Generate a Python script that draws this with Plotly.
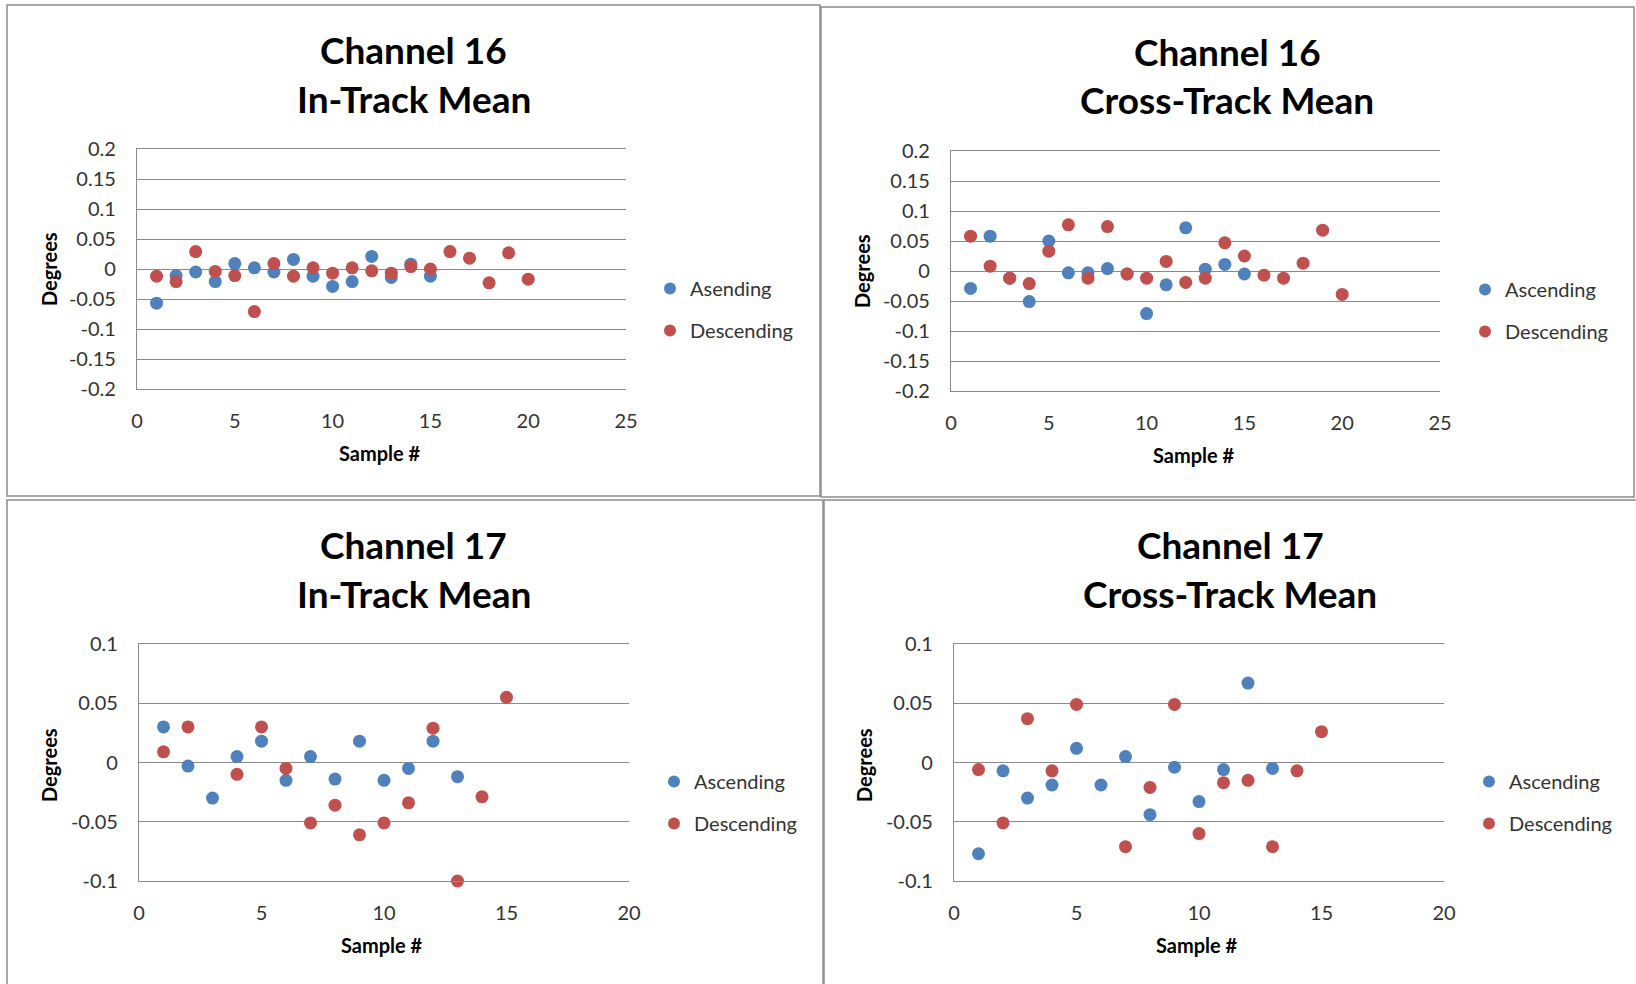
import plotly.graph_objects as go

W, H = 1636, 984

# ---------------- data ----------------
# Channel 16 In-Track Mean
c16_in_asc_x = list(range(1, 16))
c16_in_asc_y = [-0.057, -0.011, -0.005, -0.021, 0.009, 0.002, -0.005, 0.016, -0.012,
                -0.029, -0.021, 0.021, -0.014, 0.008, -0.012]
c16_in_desc_x = list(range(1, 21))
c16_in_desc_y = [-0.012, -0.021, 0.029, -0.004, -0.011, -0.071, 0.009, -0.012, 0.002,
                 -0.007, 0.002, -0.003, -0.007, 0.004, 0.0, 0.029, 0.018, -0.023,
                 0.027, -0.017]

# Channel 16 Cross-Track Mean
c16_cr_asc_x = list(range(1, 16))
c16_cr_asc_y = [-0.029, 0.058, -0.012, -0.051, 0.050, -0.003, -0.003, 0.004, -0.005,
                -0.071, -0.023, 0.072, 0.003, 0.011, -0.005]
c16_cr_desc_x = list(range(1, 21))
c16_cr_desc_y = [0.058, 0.008, -0.012, -0.021, 0.033, 0.077, -0.012, 0.074, -0.005,
                 -0.012, 0.016, -0.019, -0.012, 0.047, 0.025, -0.007, -0.012, 0.013,
                 0.068, -0.039]

# Channel 17 In-Track Mean
c17_in_asc_x = list(range(1, 14))
c17_in_asc_y = [0.030, -0.003, -0.030, 0.005, 0.018, -0.015, 0.005, -0.014, 0.018,
                -0.015, -0.005, 0.018, -0.012]
c17_in_desc_x = [1, 2, 4, 5, 6, 7, 8, 9, 10, 11, 12, 13, 14, 15]
c17_in_desc_y = [0.009, 0.030, -0.010, 0.030, -0.005, -0.051, -0.036, -0.061, -0.051,
                 -0.034, 0.029, -0.100, -0.029, 0.055]

# Channel 17 Cross-Track Mean
c17_cr_asc_x = list(range(1, 14))
c17_cr_asc_y = [-0.077, -0.007, -0.030, -0.019, 0.012, -0.019, 0.005, -0.044, -0.004,
                -0.033, -0.006, 0.067, -0.005]
c17_cr_desc_x = [1, 2, 3, 4, 5, 7, 8, 9, 10, 11, 12, 13, 14, 15]
c17_cr_desc_y = [-0.006, -0.051, 0.037, -0.007, 0.049, -0.071, -0.021, 0.049, -0.060,
                 -0.017, -0.015, -0.071, -0.007, 0.026]

titles = ["Channel 16<br>In-Track Mean", "Channel 16<br>Cross-Track Mean",
          "Channel 17<br>In-Track Mean", "Channel 17<br>Cross-Track Mean"]
asc_names = ["Asending", "Ascending", "Ascending", "Ascending"]
desc_name = "Descending"
x_title = "Sample #"
y_title = "Degrees"

ch16_yticks = [0.2, 0.15, 0.1, 0.05, 0, -0.05, -0.1, -0.15, -0.2]
ch16_yticktext = ["0.2", "0.15", "0.1", "0.05", "0", "-0.05", "-0.1", "-0.15", "-0.2"]
ch17_yticks = [0.1, 0.05, 0, -0.05, -0.1]
ch17_yticktext = ["0.1", "0.05", "0", "-0.05", "-0.1"]
ch16_xticks = [0, 5, 10, 15, 20, 25]
ch17_xticks = [0, 5, 10, 15, 20]

# ---------------- styling ----------------
BLUE = "#4F81BD"
RED = "#C0504D"
GRID = "#8a8a8a"
FONT = "Lato"


def fx(px):
    return px / W


def fy(py):
    return 1 - py / H


panels = [
    dict(area=(137, 626, 149, 389), tx=414, ty1=50, ty2=98, deg=(49, 269), samp=(380, 453),
         leg=(650, 269), border=(7, 820, 5, 496),
         ax=c16_in_asc_x, ay=c16_in_asc_y, dx=c16_in_desc_x, dy=c16_in_desc_y,
         xr=[0, 25], yr=[-0.2, 0.2], xt=ch16_xticks, yt=ch16_yticks, ytt=ch16_yticktext),
    dict(area=(951, 1440, 151, 391), tx=1227, ty1=51, ty2=100, deg=(862, 271), samp=(1194, 455),
         leg=(1465, 270), border=(821, 1634, 7, 497),
         ax=c16_cr_asc_x, ay=c16_cr_asc_y, dx=c16_cr_desc_x, dy=c16_cr_desc_y,
         xr=[0, 25], yr=[-0.2, 0.2], xt=ch16_xticks, yt=ch16_yticks, ytt=ch16_yticktext),
    dict(area=(139, 629, 644, 881), tx=414, ty1=544, ty2=593, deg=(49, 765), samp=(382, 945),
         leg=(654, 762), border=(7, 823, 500, 990),
         ax=c17_in_asc_x, ay=c17_in_asc_y, dx=c17_in_desc_x, dy=c17_in_desc_y,
         xr=[0, 20], yr=[-0.1, 0.1], xt=ch17_xticks, yt=ch17_yticks, ytt=ch17_yticktext),
    dict(area=(954, 1444, 644, 881), tx=1230, ty1=544, ty2=593, deg=(864, 765), samp=(1197, 945),
         leg=(1469, 762), border=(824, 1640, 500, 990),
         ax=c17_cr_asc_x, ay=c17_cr_asc_y, dx=c17_cr_desc_x, dy=c17_cr_desc_y,
         xr=[0, 20], yr=[-0.1, 0.1], xt=ch17_xticks, yt=ch17_yticks, ytt=ch17_yticktext),
]

fig = go.Figure()
annotations = []
shapes = []
layout_axes = {}

for i, p in enumerate(panels):
    n = i + 1
    xa = "x" if n == 1 else f"x{n}"
    ya = "y" if n == 1 else f"y{n}"
    leg = "legend" if n == 1 else f"legend{n}"
    fig.add_trace(go.Scatter(x=p["ax"], y=p["ay"], mode="markers", name=asc_names[i],
                             marker=dict(color=BLUE, size=13), xaxis=xa, yaxis=ya,
                             legend=leg, legendgroup=f"a{n}", cliponaxis=False))
    fig.add_trace(go.Scatter(x=p["dx"], y=p["dy"], mode="markers", name=desc_name,
                             marker=dict(color=RED, size=13), xaxis=xa, yaxis=ya,
                             legend=leg, legendgroup=f"d{n}", cliponaxis=False))
    x0, x1, yt, yb = p["area"]
    layout_axes["xaxis" if n == 1 else f"xaxis{n}"] = dict(
        domain=[fx(x0), fx(x1)], anchor=ya, range=p["xr"], tickvals=p["xt"],
        showgrid=False, zeroline=False, showline=True, mirror=True, linecolor=GRID,
        linewidth=1.2, ticks="", ticklabelstandoff=14, automargin=False,
        tickfont=dict(family=FONT, size=20, color="#333333"))
    layout_axes["yaxis" if n == 1 else f"yaxis{n}"] = dict(
        domain=[fy(yb), fy(yt)], anchor=xa, range=p["yr"], tickvals=p["yt"],
        ticktext=p["ytt"], showgrid=True, gridcolor=GRID, gridwidth=1.2, zeroline=False,
        showline=True, linecolor=GRID, linewidth=1.2, ticks="", ticklabelstandoff=16,
        automargin=False, tickfont=dict(family=FONT, size=20, color="#333333"))
    layout_axes[leg] = dict(
        x=fx(p["leg"][0]), y=fy(p["leg"][1]), xanchor="left", yanchor="top",
        font=dict(family=FONT, size=20, color="#333333"), bgcolor="rgba(0,0,0,0)",
        itemsizing="constant", tracegroupgap=13)
    t1, t2 = titles[i].split("<br>")
    annotations.append(dict(text=f"<b>{t1}</b>", x=fx(p["tx"]), y=fy(p["ty1"]), xref="paper",
                            yref="paper", showarrow=False, xanchor="center", yanchor="middle",
                            font=dict(family=FONT, size=37, color="#000000")))
    annotations.append(dict(text=f"<b>{t2}</b>", x=fx(p["tx"]), y=fy(p["ty2"]), xref="paper",
                            yref="paper", showarrow=False, xanchor="center", yanchor="middle",
                            font=dict(family=FONT, size=37, color="#000000")))
    annotations.append(dict(text=f"<b>{y_title}</b>", x=fx(p["deg"][0]), y=fy(p["deg"][1]),
                            xref="paper", yref="paper", showarrow=False, textangle=-90,
                            xanchor="center", yanchor="middle",
                            font=dict(family=FONT, size=20, color="#000000")))
    annotations.append(dict(text=f"<b>{x_title}</b>", x=fx(p["samp"][0]), y=fy(p["samp"][1]),
                            xref="paper", yref="paper", showarrow=False,
                            xanchor="center", yanchor="middle",
                            font=dict(family=FONT, size=20, color="#000000")))
    bx0, bx1, by0, by1 = p["border"]
    shapes.append(dict(type="rect", xref="paper", yref="paper", x0=fx(bx0), x1=fx(bx1),
                       y0=fy(by1), y1=fy(by0), line=dict(color="#8c8c8c", width=1.5)))

fig.update_layout(
    width=W, height=H, margin=dict(l=0, r=0, t=0, b=0, autoexpand=False),
    paper_bgcolor="white", plot_bgcolor="white",
    showlegend=True, annotations=annotations, shapes=shapes,
    font=dict(family=FONT),
    **layout_axes,
)

fig.write_html("out.html", config={"displayModeBar": False},
               post_script="document.body.style.margin='0';")
